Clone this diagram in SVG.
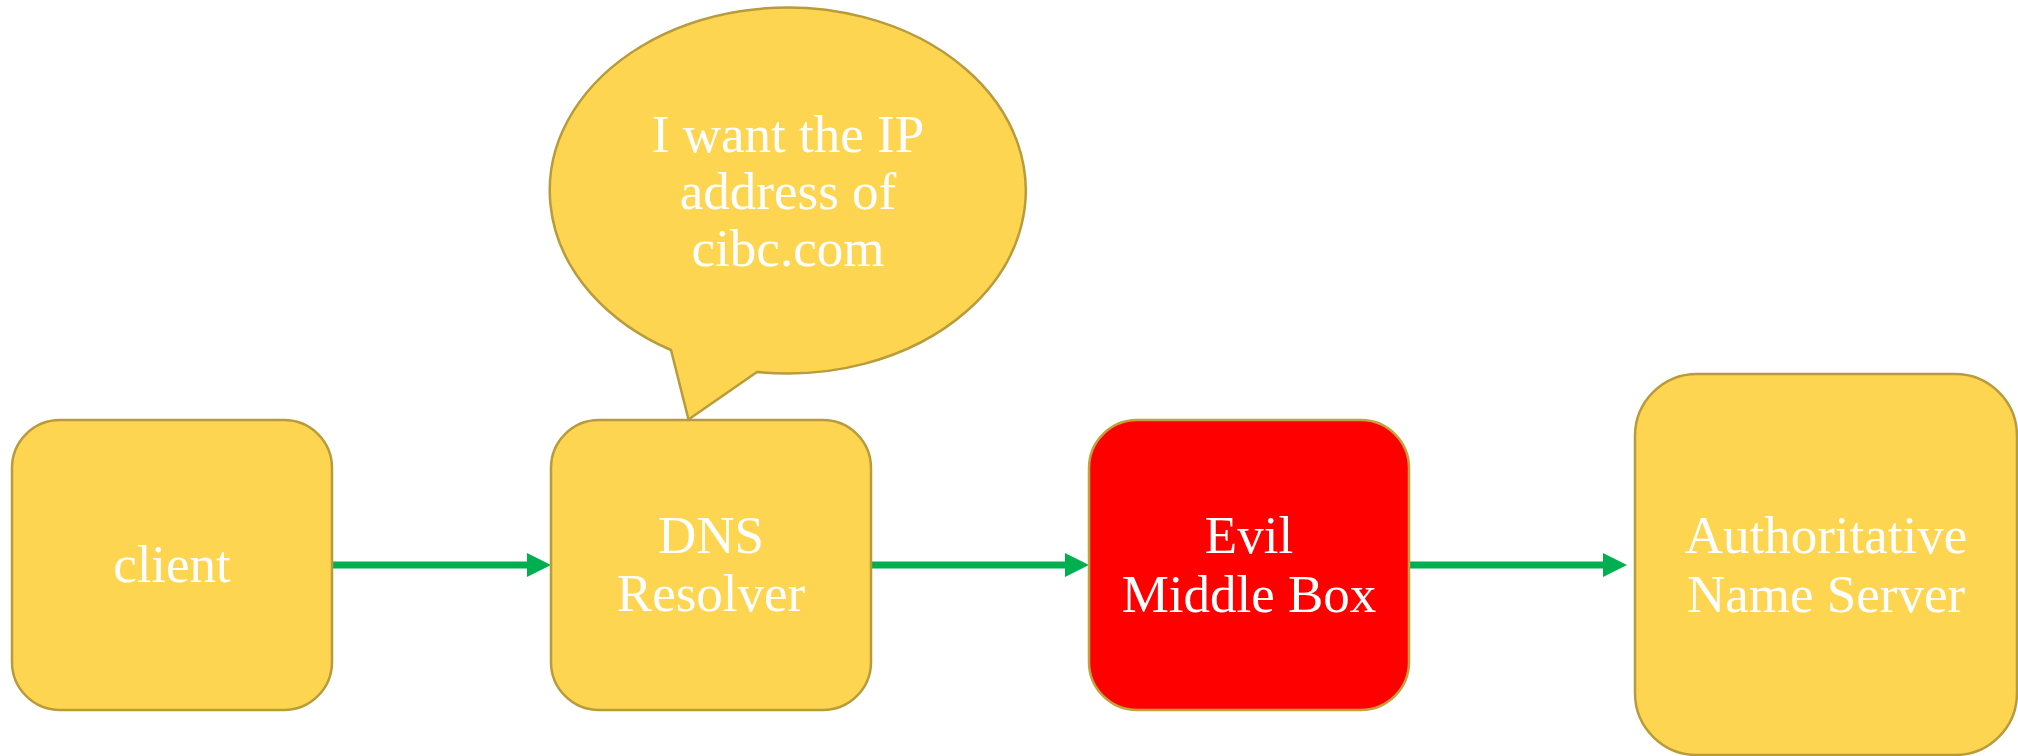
<svg xmlns="http://www.w3.org/2000/svg" width="2018" height="756" viewBox="0 0 2018 756">
<defs>
<style>
.box{fill:#FED551;stroke:#B89B3A;stroke-width:2.5}
.evil{fill:#FF0000;stroke:#C3A23E;stroke-width:2.5}
.lbl{font-family:"Liberation Serif","Times New Roman",serif;font-size:53px;fill:#FFFFFF;text-anchor:middle}
.conn{stroke:#00B050;stroke-width:7;fill:none}
</style>
<marker id="ah" markerUnits="userSpaceOnUse" markerWidth="24" markerHeight="24" refX="0" refY="12" orient="auto" overflow="visible">
<path d="M0,0 L24,12 L0,24 Z" fill="#00B050"/>
</marker>
</defs>
<rect width="2018" height="756" fill="#FFFFFF"/>
<g id="connectors">
<line class="conn" x1="333" y1="565" x2="527" y2="565" marker-end="url(#ah)"/>
<line class="conn" x1="871" y1="565" x2="1065" y2="565" marker-end="url(#ah)"/>
<line class="conn" x1="1409" y1="565" x2="1603" y2="565" marker-end="url(#ah)"/>
</g>
<g id="client">
<rect class="box" x="12" y="420" width="320" height="290" rx="48" ry="48"/>
<text class="lbl" x="172" y="582">client</text>
</g>
<g id="dns-resolver">
<rect class="box" x="551" y="420" width="320" height="290" rx="48" ry="48"/>
<text class="lbl" x="711" y="553">DNS</text>
<text class="lbl" x="711" y="611">Resolver</text>
</g>
<g id="speech-bubble">
<path class="box" d="M671,350 A238,183 0 1 1 757,372 L688.5,419.5 Z"/>
<text class="lbl" x="788" y="152">I want the IP</text>
<text class="lbl" x="788" y="209">address of</text>
<text class="lbl" x="788" y="266">cibc.com</text>
</g>
<g id="evil-middle-box">
<rect class="evil" x="1089" y="420" width="320" height="290" rx="48" ry="48"/>
<text class="lbl" x="1249" y="553">Evil</text>
<text class="lbl" x="1249" y="612">Middle Box</text>
</g>
<g id="authoritative-name-server">
<rect class="box" x="1635" y="374" width="382" height="381" rx="62" ry="62"/>
<text class="lbl" x="1826" y="553">Authoritative</text>
<text class="lbl" x="1826" y="612">Name Server</text>
</g>
</svg>
